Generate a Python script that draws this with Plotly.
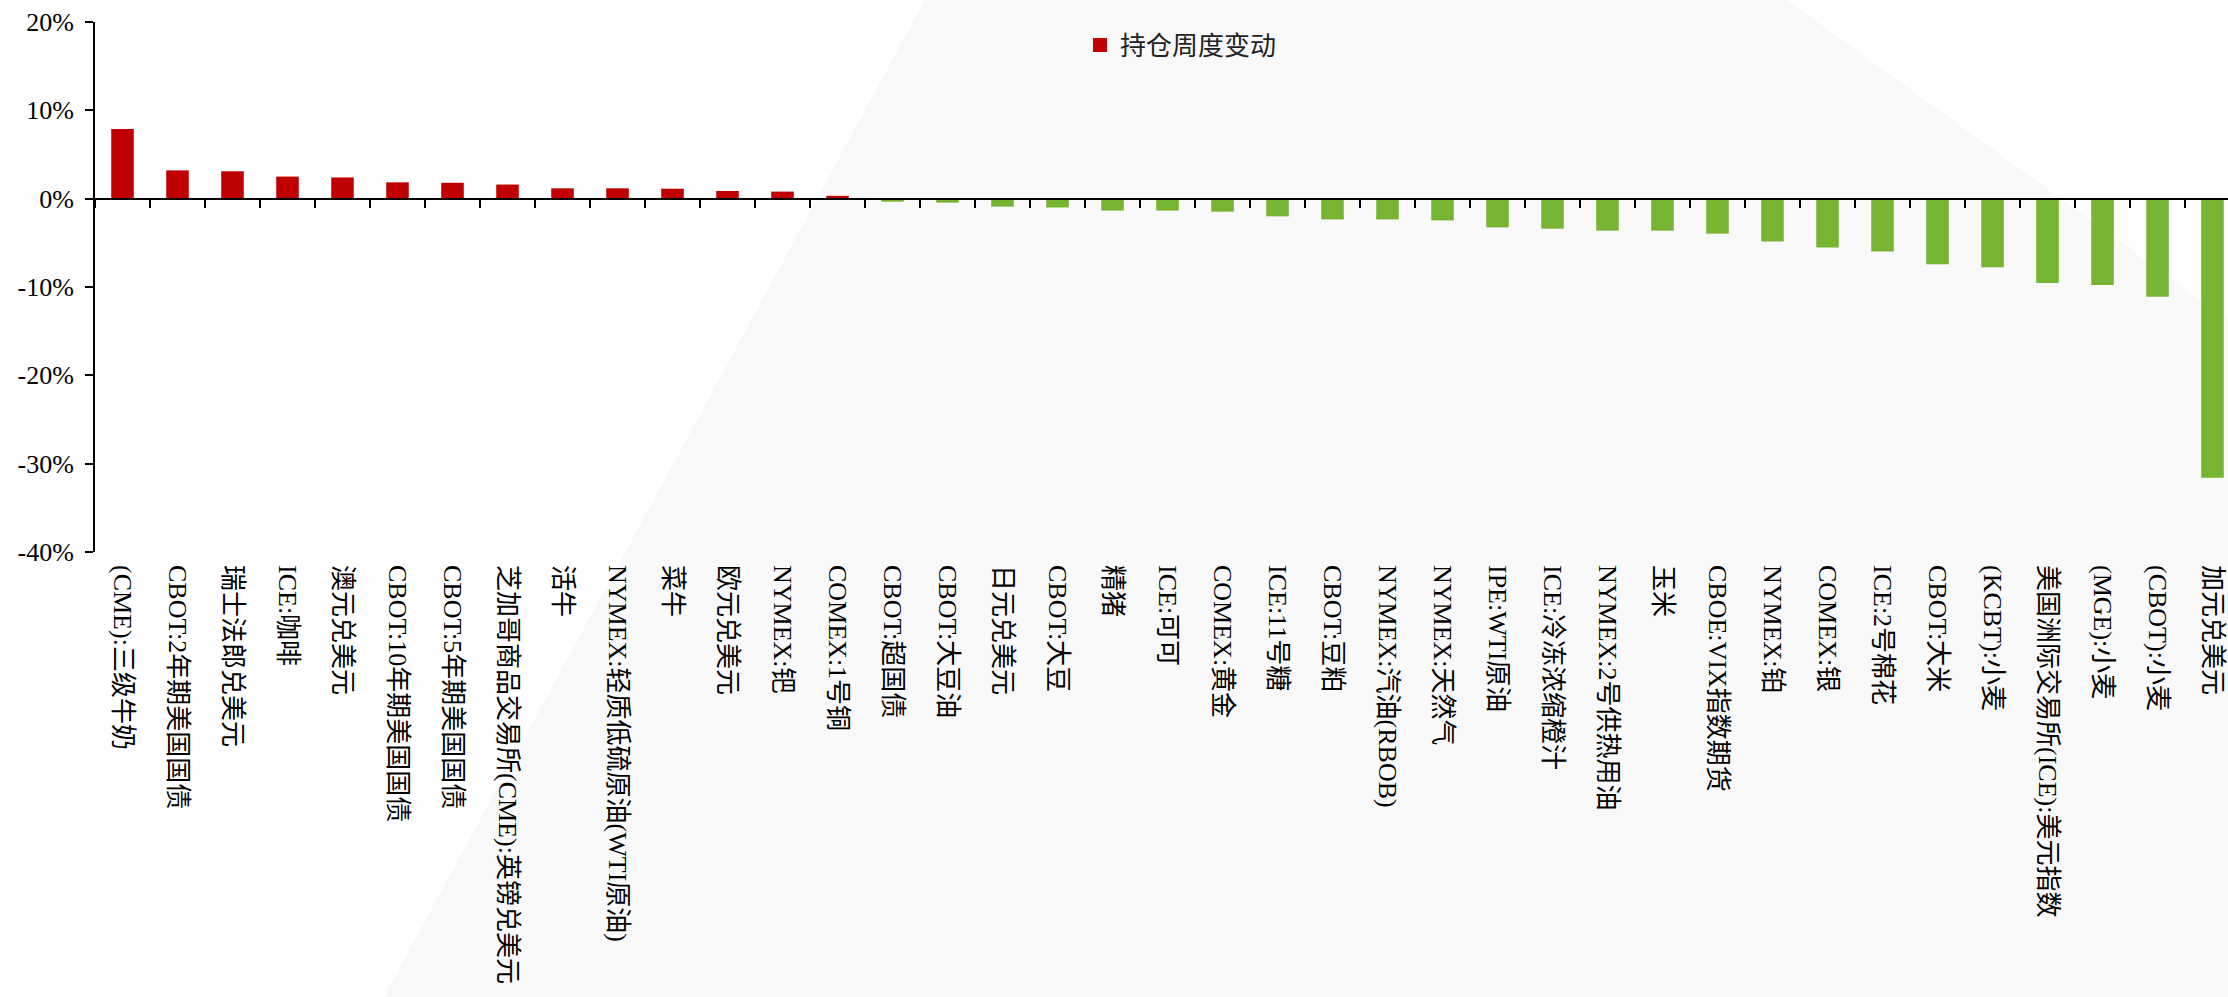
import plotly.graph_objects as go

categories = [
    "(CME):三级牛奶", "CBOT:2年期美国国债", "瑞士法郎兑美元", "ICE:咖啡", "澳元兑美元",
    "CBOT:10年期美国国债", "CBOT:5年期美国国债", "芝加哥商品交易所(CME):英镑兑美元", "活牛",
    "NYMEX:轻质低硫原油(WTI原油)", "菜牛", "欧元兑美元", "NYMEX:钯", "COMEX:1号铜",
    "CBOT:超国债", "CBOT:大豆油", "日元兑美元", "CBOT:大豆", "精猪", "ICE:可可",
    "COMEX:黄金", "ICE:11号糖", "CBOT:豆粕", "NYMEX:汽油(RBOB)", "NYMEX:天然气",
    "IPE:WTI原油", "ICE:冷冻浓缩橙汁", "NYMEX:2号供热用油", "玉米", "CBOE:VIX指数期货",
    "NYMEX:铂", "COMEX:银", "ICE:2号棉花", "CBOT:大米", "(KCBT):小麦",
    "美国洲际交易所(ICE):美元指数", "(MGE):小麦", "(CBOT):小麦", "加元兑美元",
]
# weekly change in open interest, %
values = [
    7.9, 3.2, 3.1, 2.5, 2.4, 1.85, 1.8, 1.6, 1.17, 1.17, 1.13, 0.87, 0.8, 0.32,
    -0.34, -0.45, -0.9, -1.0, -1.35, -1.35, -1.47, -2.0, -2.35, -2.35, -2.46,
    -3.25, -3.4, -3.62, -3.62, -3.96, -4.85, -5.52, -5.97, -7.43, -7.76,
    -9.55, -9.78, -11.1, -31.6,
]
series_name = "持仓周度变动"
y_ticks = [-40, -30, -20, -10, 0, 10, 20]
y_tick_text = [f"{v}%" for v in y_ticks]

RED = "#C00000"
GREEN = "#76B431"
colors = [RED if v >= 0 else GREEN for v in values]

W, H = 2228, 997
ML, MR, MT, MB = 95, 0, 22, 445
PW = W - ML - MR
PH = H - MT - MB
BAND = 55.0  # px per category in the reference (last band runs past the edge)
x_range = [-0.5, -0.5 + PW / BAND]

def px2paper(px, py):
    return (px - ML) / PW, (H - MB - py) / PH

SERIF_CJK = "Times New Roman, Liberation Serif, Noto Sans CJK SC"

fig = go.Figure()
fig.add_trace(go.Bar(
    x=categories, y=values, name=series_name,
    marker=dict(color=colors, line=dict(width=0)),
    showlegend=False,
))
# legend proxy (square symbol like the reference)
fig.add_trace(go.Scatter(
    x=[None], y=[None], mode="markers", name=series_name,
    marker=dict(symbol="square", size=14, color=RED), showlegend=True,
))
# invisible helper trace for the zero-line category axis with ticks
fig.add_trace(go.Scatter(
    x=categories, y=values, xaxis="x2", mode="markers",
    marker=dict(opacity=0), hoverinfo="skip", showlegend=False,
))

# decorative light background polygon
pts = [(925, 0), (1787, 0), (2228, 320), (2228, 997), (384, 997)]
pp = [px2paper(a, b) for a, b in pts]
path = "M " + " L ".join(f"{x:.4f},{y:.4f}" for x, y in pp) + " Z"
fig.add_shape(type="path", path=path, xref="paper", yref="paper",
              fillcolor="#F9F9F9", line=dict(width=0), layer="below")

fig.update_layout(
    width=W, height=H,
    margin=dict(l=ML, r=MR, t=MT, b=MB, pad=0),
    paper_bgcolor="white", plot_bgcolor="rgba(0,0,0,0)",
    bargap=0.59,
    font=dict(family=SERIF_CJK, size=26, color="black"),
    legend=dict(
        orientation="h", x=(1080 - ML) / PW, xanchor="left",
        y=(H - MB - 45) / PH, yanchor="middle",
        bgcolor="rgba(0,0,0,0)",
        font=dict(family="Noto Sans CJK SC", size=26, color="#222222"),
    ),
    xaxis=dict(
        type="category", categoryorder="array", categoryarray=categories,
        range=x_range,
        showline=False, showgrid=False, zeroline=False, ticks="",
        tickangle=90, tickfont=dict(family=SERIF_CJK, size=26, color="black"),
        ticklabelstandoff=12, automargin=False,
    ),
    xaxis2=dict(
        type="category", categoryorder="array", categoryarray=categories,
        range=x_range,
        overlaying="x", anchor="free", position=40 / 60, side="bottom",
        showline=True, linecolor="black", linewidth=2,
        ticks="outside", tickson="boundaries", ticklen=8, tickwidth=2, tickcolor="black",
        showticklabels=False, showgrid=False, zeroline=False,
    ),
    yaxis=dict(
        range=[-40, 20], tickmode="array", tickvals=y_ticks, ticktext=y_tick_text,
        showline=True, linecolor="black", linewidth=2,
        ticks="outside", ticklen=8, tickwidth=2, tickcolor="black",
        showgrid=False, zeroline=False,
        tickfont=dict(family=SERIF_CJK, size=26, color="black"),
        ticklabelstandoff=6, automargin=False,
    ),
)

fig.write_html(
    "out.html",
    config={"displayModeBar": False},
    post_script="document.body.style.margin='0';document.body.style.overflow='hidden';",
)
